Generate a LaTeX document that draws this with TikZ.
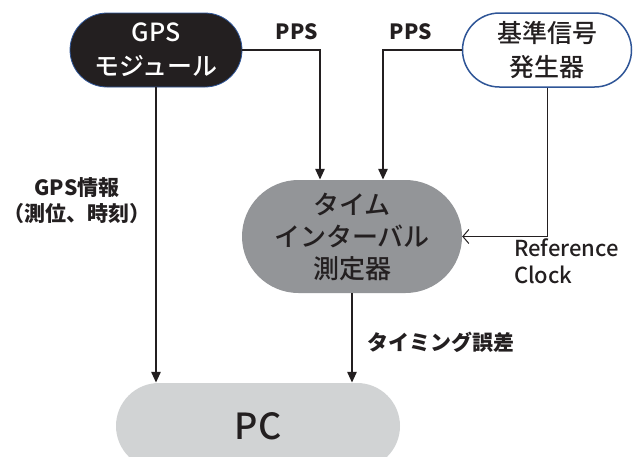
\documentclass[tikz,border=0pt]{standalone}
\usepackage{fontspec}
\setmainfont{Noto Sans CJK JP}[BoldFont={Noto Sans CJK JP Bold}]
\newfontfamily\jpmed{Noto Sans CJK JP Medium}
\newfontfamily\jpblack{Noto Sans CJK JP Black}
\usetikzlibrary{shapes.misc,arrows.meta,calc}
\definecolor{ink}{HTML}{231F20}
\definecolor{blueline}{HTML}{2F5597}
\definecolor{midgray}{HTML}{939598}
\definecolor{lightgray}{HTML}{D1D3D4}
\tikzset{
  box/.style={rounded rectangle, inner sep=0pt, align=center, font=\jpmed\fontsize{25}{34}\selectfont},
  arr/.style={draw=ink, line width=2.6pt, -{Triangle[length=11pt,width=9pt]}},
  thinarr/.style={draw=ink, line width=1pt, -{Straight Barb[length=6pt,width=14pt,line width=1pt]}},
  lbl/.style={font=\jpblack\fontsize{21}{26}\selectfont, text=ink, inner sep=0pt, align=center},
  lblr/.style={font=\jpmed\fontsize{22}{27}\selectfont, text=ink, inner sep=0pt, align=left},
}
\begin{document}
\begin{tikzpicture}[x=1pt,y=-1pt]
\clip (0,0) rectangle (633,456);
\fill[white] (0,0) rectangle (633,456);
\node[box, fill=ink, draw=blueline, line width=0.8pt, text=white, minimum width=172pt, minimum height=74pt] (gps) at (156,50) {GPS\\モジュール};
\node[box, fill=white, draw=blueline, line width=1.5pt, text=ink, minimum width=169pt, minimum height=74pt] (ref) at (547,50) {基準信号\\発生器};
\node[box, fill=midgray, text=ink, minimum width=220pt, minimum height=113pt, font=\jpmed\fontsize{26}{32}\selectfont] (ti) at (352,236.5) {タイム\\インターバル\\測定器};
\node[box, fill=lightgray, text=ink, minimum width=284pt, minimum height=86pt, font=\jpmed\fontsize{36}{40}\selectfont] (pc) at (258,426) {PC};
\draw[arr] (gps.east) -| ([xshift=-32pt]ti.north);
\draw[arr] (ref.west) -| ([xshift=31pt]ti.north);
\draw[arr] (gps.south) -- (gps.south |- pc.north);
\draw[arr] (ti.south) -- (ti.south |- pc.north);
\draw[thinarr] (ref.south) |- (ti.east);
\node[lbl] (pps1) at (297,32) {PPS};
\node[lbl] (pps2) at (411,32) {PPS};
\node[lbl] (gpsinfo) at (77,201) {GPS情報\\（測位、時刻）};
\node[lbl, anchor=west] (terr) at (367,342) {タイミング誤差};
\node[lblr, anchor=north west] (rc) at (514,238) {Reference\\Clock};
\end{tikzpicture}
\end{document}
